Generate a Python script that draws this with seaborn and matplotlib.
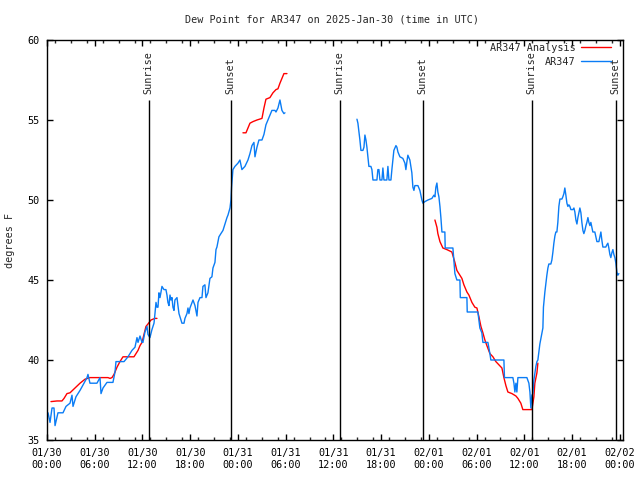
import pandas as pd
import matplotlib
matplotlib.use("Agg")
import matplotlib.pyplot as plt
import matplotlib.dates as mdates
import seaborn as sns

sns.set_style("ticks")
plt.rcParams['font.family'] = ['DejaVu Sans Mono']

# hours since 2025-01-30 00:00 UTC, dew point in F
obs_hours_1 = [0.13, 0.38, 0.63, 0.88, 1.01, 1.38, 2.01, 2.39, 2.89, 3.14, 3.27, 3.64, 4.15, 4.65,
               5.03, 5.15, 5.40, 6.28, 6.66, 6.79, 7.04, 7.54, 8.29, 8.55, 8.67, 9.68, 10.18, 10.68,
               11.06, 11.31, 11.44, 11.69, 11.94, 12.06, 12.31, 12.57, 12.69, 12.94, 13.19, 13.45,
               13.57, 13.70, 13.82, 13.95, 14.07, 14.20, 14.33, 14.45, 14.70, 14.95, 15.08, 15.20,
               15.33, 15.46, 15.58, 15.71, 15.83, 15.96, 16.08, 16.34, 16.46, 16.59, 16.84, 16.96,
               17.22, 17.34, 17.59, 17.72, 17.84, 17.97, 18.35, 18.60, 18.85, 18.98, 19.23, 19.48,
               19.60, 19.85, 19.98, 20.23, 20.48, 20.73, 20.86, 21.11, 21.24, 21.36, 21.61, 21.86,
               22.12, 22.37, 22.62, 22.75, 23.00, 23.12, 23.20, 23.37, 23.62, 24.00, 24.25, 24.50,
               24.88, 25.26, 25.51, 25.76, 26.01, 26.14, 26.39, 26.64, 27.02, 27.27, 27.52, 27.77,
               28.02, 28.27, 28.65, 28.78, 29.03, 29.28, 29.53, 29.78, 29.91]
obs_dew_1 = [36.7, 36.1, 37.0, 37.0, 35.9, 36.7, 36.7, 37.1, 37.3, 37.8, 37.1, 37.7, 38.1, 38.55,
             38.9, 39.1, 38.55, 38.55, 38.9, 37.9, 38.25, 38.6, 38.6, 39.25, 39.9, 39.9, 40.2, 40.6,
             40.8, 41.4, 41.1, 41.5, 41.1, 41.1, 41.75, 42.1, 41.6, 41.4, 41.9, 42.3,
             42.9, 43.6, 43.3, 43.3, 44.2, 43.9, 44.25, 44.6, 44.4, 44.4, 44.06, 43.6,
             43.4, 44.06, 43.75, 43.9, 43.3, 43.1, 43.75, 43.9, 43.4, 42.9, 42.5, 42.3,
             42.3, 42.6, 42.9, 43.25, 42.9, 43.25, 43.75, 43.4, 42.75, 43.6, 43.9, 43.9,
             44.6, 44.7, 43.9, 44.2, 45.1, 45.2, 45.75, 46.1, 46.9, 47.06, 47.7, 47.9,
             48.1, 48.5, 48.9, 49.06, 49.5, 50.0, 50.8, 51.9, 52.1, 52.3, 52.5, 51.9,
             52.1, 52.5, 52.9, 53.4, 53.6, 52.7, 53.3, 53.75, 53.75, 54.1, 54.7, 55.0,
             55.3, 55.6, 55.6, 55.5, 55.75, 56.25, 55.6, 55.4, 55.45]

obs_hours_2 = [38.96, 39.08, 39.21, 39.33, 39.46, 39.71, 39.84, 39.96, 40.09, 40.21, 40.34, 40.46,
               40.71, 40.84, 40.97, 41.47, 41.59, 41.72, 41.85, 42.10, 42.22, 42.35, 42.72, 42.85,
               42.98, 43.23, 43.35, 43.48, 43.60, 43.86, 43.98, 44.11, 44.36, 44.73, 44.99, 45.11,
               45.24, 45.36, 45.61, 45.86, 45.99, 46.12, 46.24, 46.62, 46.87, 47.00, 47.12, 47.25,
               47.50, 47.88, 48.38, 48.63, 48.76, 48.88, 49.01, 49.13, 49.26, 49.39, 49.51, 49.64,
               50.01, 50.05, 51.02, 51.14, 51.27, 51.52, 51.90, 51.95, 52.78, 52.82, 54.16, 54.29,
               54.41, 54.66, 54.79, 55.42, 55.67, 55.79, 57.43, 57.50, 58.56, 58.69, 58.81, 58.94,
               59.06, 59.19, 60.32, 60.57, 60.70, 60.82, 60.95, 61.07, 61.20, 61.45, 61.58, 61.70,
               61.95, 62.33, 62.40, 62.58, 62.71, 62.83, 62.96, 63.08, 63.33, 63.46, 63.59, 63.71,
               63.84, 63.96, 64.09, 64.21, 64.34, 64.47, 64.72, 64.84, 64.97, 65.09, 65.22, 65.35,
               65.47, 65.60, 65.72, 65.85, 66.10, 66.23, 66.35, 66.48, 66.61, 66.73, 66.86, 66.98,
               67.11, 67.23, 67.36, 67.48, 67.61, 67.74, 67.86, 67.99, 68.11, 68.24, 68.36, 68.49,
               68.61, 68.86, 68.99, 69.12, 69.37, 69.49, 69.62, 69.74, 69.87, 70.24, 70.37, 70.50,
               70.62, 70.75, 70.87, 71.00, 71.13, 71.25, 71.38, 71.50, 71.63, 71.75, 71.88]
obs_dew_2 = [55.05, 54.8, 54.25, 53.75, 53.1, 53.1, 53.3, 54.06, 53.75, 53.3, 52.7, 52.1,
             52.1, 51.9, 51.25, 51.25, 51.9, 51.9, 51.25, 51.25, 52.0, 51.25, 51.25, 52.1,
             51.25, 51.25, 51.9, 52.5, 53.1, 53.4, 53.3, 53.0, 52.7, 52.6, 52.3, 51.9,
             52.4, 52.8, 52.5, 51.7, 50.8, 50.6, 50.9, 50.9, 50.6, 50.3, 50.0, 49.8,
             49.9, 50.0, 50.1, 50.3, 50.2, 50.8, 51.06, 50.5, 50.2, 49.6, 48.9, 48.0,
             48.0, 47.0, 47.0, 46.25, 45.4, 45.0, 45.0, 43.9, 43.9, 43.0, 43.0, 42.5,
             42.0, 41.7, 41.1, 41.1, 40.4, 40.0, 40.0, 38.9, 38.9, 38.55, 38.0, 38.55,
             38.0, 38.9, 38.9, 38.55, 38.0, 37.0, 37.8, 37.9, 38.75, 39.6, 39.9, 40.0,
             41.0, 42.0, 43.3, 44.25, 44.8, 45.3, 45.75, 46.0, 46.0, 46.25, 46.75, 47.3,
             47.75, 48.0, 48.0, 48.6, 49.6, 50.06, 50.06, 50.2, 50.4, 50.75, 50.3, 49.8,
             49.6, 49.7, 49.6, 49.4, 49.4, 49.5, 49.25, 48.75, 48.5, 48.9, 49.2, 49.5,
             49.2, 48.6, 48.1, 47.9, 48.1, 48.4, 48.6, 48.9, 48.6, 48.4, 48.6, 48.3,
             48.0, 48.0, 47.7, 47.4, 47.4, 47.7, 48.0, 47.5, 47.06, 47.06, 47.2, 47.3,
             47.0, 46.6, 46.4, 46.7, 46.9, 46.6, 46.4, 46.06, 45.5, 45.3, 45.4]

ana_hours_1 = [0.50, 1.26, 1.88, 2.14, 2.51, 2.89, 3.52, 4.15, 4.78, 5.40, 7.67, 7.92, 8.17, 8.42,
               8.80, 9.17, 9.55, 10.93, 11.06, 11.44, 11.69, 11.94, 12.19, 12.44, 12.69, 13.07,
               13.57, 13.82]
ana_dew_1 = [37.4, 37.44, 37.44, 37.6, 37.9, 37.95, 38.25, 38.55, 38.8, 38.9, 38.9, 38.85, 38.9, 39.1,
             39.55, 39.9, 40.2, 40.2, 40.3, 40.6, 40.9, 41.1, 41.6, 42.1, 42.25, 42.5,
             42.6, 42.6]

ana_hours_2 = [24.63, 25.01, 25.26, 25.51, 25.89, 26.39, 27.02, 27.27, 27.52, 27.77, 28.02, 28.40,
               28.78, 29.03, 29.28, 29.53, 29.78, 30.16]
ana_dew_2 = [54.2, 54.2, 54.5, 54.8, 54.9, 55.0, 55.1, 55.75, 56.3, 56.35, 56.4, 56.7,
             56.9, 56.95, 57.3, 57.6, 57.9, 57.9]

ana_hours_3 = [48.76, 49.01, 49.13, 49.39, 49.76, 50.26, 50.89, 51.27, 51.52, 51.77, 52.15, 52.40,
               52.78, 53.03, 53.41, 53.78, 54.04, 54.29, 54.54, 54.79, 55.04, 55.29, 55.67, 56.05,
               56.42, 56.80, 57.18, 57.43, 57.68, 57.93, 58.44, 58.94, 59.19, 59.56, 59.81, 60.95,
               61.20, 61.32, 61.58, 61.70]
ana_dew_3 = [48.75, 48.3, 47.9, 47.4, 47.0, 46.9, 46.75, 46.1, 45.6, 45.4, 45.1, 44.7,
             44.25, 44.06, 43.6, 43.3, 43.25, 42.7, 42.1, 41.7, 41.25, 40.9, 40.4, 40.2,
             39.9, 39.7, 39.5, 38.9, 38.4, 38.0, 37.9, 37.75, 37.6, 37.3, 36.9, 36.9,
             37.7, 38.55, 39.2, 39.8]

sunrise_hours = [12.8, 36.8, 60.9]
sunset_hours = [23.1, 47.2, 71.5]

start = pd.Timestamp("2025-01-30 00:00")


def make_frame():
    parts = [
        ("AR347 Analysis", "a1", ana_hours_1, ana_dew_1),
        ("AR347 Analysis", "a2", ana_hours_2, ana_dew_2),
        ("AR347 Analysis", "a3", ana_hours_3, ana_dew_3),
        ("AR347", "o1", obs_hours_1, obs_dew_1),
        ("AR347", "o2", obs_hours_2, obs_dew_2),
    ]
    frames = []
    for name, seg, hrs, dew in parts:
        frames.append(pd.DataFrame({
            "time": start + pd.to_timedelta(hrs, unit="h"),
            "dew": dew,
            "series": name,
            "seg": seg,
        }))
    return pd.concat(frames, ignore_index=True)


df = make_frame()

fig = plt.figure(figsize=(6.4, 4.8), dpi=100)
ax = fig.add_axes([47 / 640, 40 / 480, 576 / 640, 400 / 480])

sns.lineplot(data=df, x="time", y="dew", hue="series", units="seg", estimator=None,
             sort=False, hue_order=["AR347 Analysis", "AR347"],
             palette={"AR347 Analysis": "#ff0000", "AR347": "#0a7cf5"},
             linewidth=1.0, ax=ax)

# sunrise / sunset markers
fs = 7.3
for hrs, label in [(sunrise_hours, "Sunrise"), (sunset_hours, "Sunset")]:
    for h in hrs:
        t = start + pd.Timedelta(hours=h)
        ax.vlines(t, 35, 56.25, color="black", linewidth=1.0)
        ax.text(t, 56.6, label, rotation=90, ha="center", va="bottom", fontsize=fs)

ax.set_xlim(start, start + pd.Timedelta(hours=72.4))
ax.set_ylim(35, 60)
ax.set_yticks([35, 40, 45, 50, 55, 60])
ax.xaxis.set_major_locator(mdates.HourLocator(byhour=[0, 6, 12, 18]))
ax.xaxis.set_minor_locator(mdates.HourLocator(interval=2))
ax.xaxis.set_major_formatter(mdates.DateFormatter("%m/%d\n%H:%M"))
ax.tick_params(axis="both", which="major", direction="in", length=4, width=1,
               top=True, right=True, labelsize=fs, colors="black")
ax.tick_params(axis="x", which="major", pad=6)
ax.tick_params(axis="y", which="major", pad=5)
ax.tick_params(axis="x", which="minor", direction="in", length=2, width=1, top=True)
for s in ax.spines.values():
    s.set_color("black")
    s.set_linewidth(1)

ax.set_xlabel("")
ax.set_ylabel("degrees F", fontsize=fs)
ax.yaxis.set_label_coords(-37 / 576, 0.5)
ax.yaxis.label.set_verticalalignment("center")

fig.text(332 / 640, 1 - 19 / 480, "Dew Point for AR347 on 2025-Jan-30 (time in UTC)",
         ha="center", va="center", fontsize=fs)

handles, labels = ax.get_legend_handles_labels()
ax.legend(handles, labels, loc="upper right", bbox_to_anchor=(1 - 12 / 576, 1 - 3 / 400),
          frameon=False, markerfirst=False, fontsize=fs, handlelength=3.0,
          handletextpad=0.5, borderpad=0, borderaxespad=0, labelspacing=0.35)

fig.savefig("out.png", dpi=100)
